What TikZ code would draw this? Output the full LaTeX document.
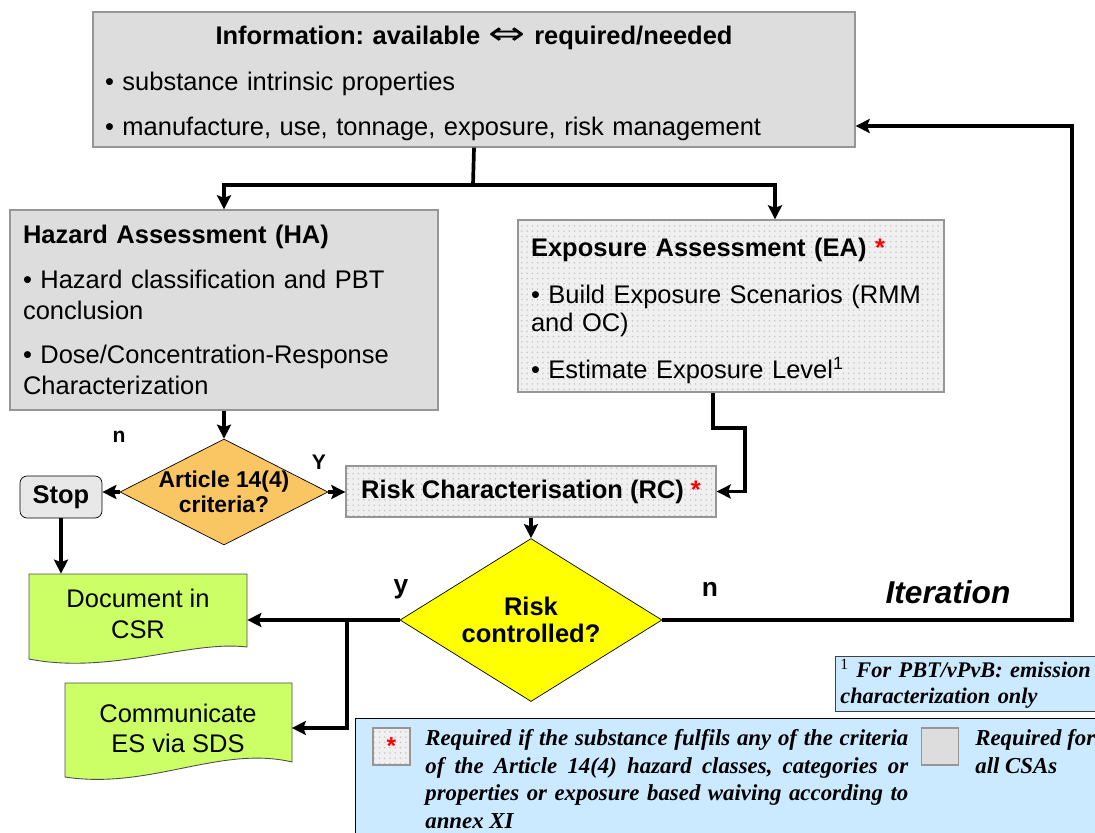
\documentclass[tikz,border=0pt]{standalone}
\usepackage{fontspec}
\setmainfont{Liberation Sans}
\newfontfamily\notefont{Liberation Serif}
\newfontfamily\symfont{DejaVu Sans}
\usetikzlibrary{shapes.geometric,arrows.meta,calc,patterns}
\definecolor{boxgray}{RGB}{221,221,221}
\definecolor{boxedge}{RGB}{150,150,150}
\definecolor{critorange}{RGB}{250,198,100}
\definecolor{riskyellow}{RGB}{255,255,0}
\definecolor{docgreen}{RGB}{204,255,102}
\definecolor{noteblue}{RGB}{204,234,255}
\frenchspacing

\begin{document}
\begin{tikzpicture}[x=0.02cm, y=-0.02cm,
  body/.style={font=\fontsize{14.5}{17.6}\selectfont},
  bold/.style={font=\bfseries\fontsize{14.5}{15.3}\selectfont},
  graybox/.style={draw=boxedge, fill=boxgray, line width=0.8pt, inner ysep=2pt},
  dotbox/.style={draw=boxedge, line width=0.8pt, preaction={fill=gray!12},
    pattern=dots, pattern color=gray!45, inner ysep=2pt},
  note/.style={font=\notefont\bfseries\itshape\fontsize{13}{15.8}\selectfont},
  conn/.style={line width=2.1pt},
  arr/.style={conn, -{Stealth[length=8pt,width=8pt,inset=1.5pt]}}]
  \useasboundingbox (0,0) rectangle (1095,832);

  % Information box
  \node[graybox, body, font=\fontsize{14.5}{25.8}\selectfont, text width=14.76cm,
    inner xsep=0.24cm, minimum height=2.7cm, align=left] (info) at (474,79.5)
    {\makebox[\hsize][c]{\rule{0pt}{15pt}\bfseries Information: available
       {\symfont\mdseries\fontsize{18}{18}\selectfont\scalebox{1.4}[1]{⇔}} required/needed}\\
     • substance intrinsic properties\\
     • manufacture, use, tonnage, exposure, risk management};

  % Assessments
  \node[graybox, body, text width=8.04cm, inner xsep=0.26cm, minimum height=4cm,
    align=left] (ha) at (224,310)
    {\textbf{Hazard Assessment (HA)}\\[7.9pt]
     • Hazard classification and PBT\\conclusion\\[7.9pt]
     • Dose/Concentration-Response\\Characterization};
  \node[dotbox, font=\fontsize{14.5}{16}\selectfont, text width=8.0cm, inner xsep=0.26cm,
    minimum height=3.44cm, align=left] (ea) at (731,306)
    {\rule{0pt}{16.3pt}\textbf{Exposure Assessment (EA)} {\bfseries\color{red}*}\\[10.6pt]
     • Build Exposure Scenarios (RMM\\and OC)\\[10.6pt]
     • Estimate Exposure Level\textsuperscript{1}};

  % Article 14(4) decision
  \node[diamond, draw, fill=critorange, minimum width=4.16cm, minimum height=2.12cm,
    inner sep=0pt] (art) at (224,492) {};
  \node[font=\bfseries\fontsize{13}{14.2}\selectfont, align=center] (artText) at (art)
    {Article 14(4)\\criteria?};
  \node[draw, fill=gray!18, rounded corners=4pt, minimum width=1.64cm, minimum height=0.84cm,
    bold] (stop) at (61,497) {Stop};
  \node[dotbox, bold, minimum width=7.4cm, minimum height=1.02cm] (rc) at (531,491.5)
    {Risk Characterisation (RC) {\color{red}*}};

  % Risk decision
  \node[diamond, draw, fill=riskyellow, minimum width=5.24cm, minimum height=3.26cm,
    inner sep=0pt] (risk) at (531,620) {};
  \node[bold, align=center] (riskText) at (risk) {Risk\\controlled?};

  % Outputs
  \filldraw[fill=docgreen, draw=black!70, line width=0.5pt] (29,574) -- (247,574) -- (247,647)
    .. controls (190,640) and (110,675) .. (29,659) -- cycle;
  \filldraw[fill=docgreen, draw=black!70, line width=0.5pt] (65,683) -- (292,683) -- (292,762)
    .. controls (220,745) and (150,790) .. (65,777) -- cycle;
  \node[font=\fontsize{14.5}{18}\selectfont, minimum width=4.36cm, minimum height=1.6cm,
    align=center] (doc) at (138,614) {Document in\\CSR};
  \node[font=\fontsize{14.5}{17}\selectfont, minimum width=4.54cm, minimum height=1.6cm,
    align=center] (comm) at (178,728) {Communicate\\ES via SDS};

  % Connectors
  \coordinate (split) at (473,185);
  \draw[conn] (info.south) -- (split);
  \draw[arr] (split) -| (ha.north);
  \draw[arr] (split) -| ($(ea.north)+(44,0)$);
  \draw[arr] (ha.south) -- (art.north);
  \draw[arr] (art.west) -- (art.west -| stop.east);
  \draw[arr] (art.east) -- (art.east -| rc.west);
  \draw[arr] ($(ea.south)+(-18,0)$) |- (745,428) |- (rc.east);
  \draw[arr] (rc.south) -- (risk.north);
  \coordinate (loop) at (1072,126);
  \draw[arr] (risk.east) -| (loop) -- (loop -| info.east);
  \draw[arr] (risk.west) -- (risk.west -| doc.east);
  \coordinate (branch) at (347,620);
  \draw[arr] (branch) |- (comm.east);
  \draw[arr] (stop.south) -- (stop.south |- doc.north);

  % Branch labels
  \node[font=\bfseries\fontsize{12}{14}\selectfont] (artNo) at (119,437) {n};
  \node[font=\bfseries\fontsize{12}{14}\selectfont] (artYes) at (319,462) {Y};
  \node[font=\bfseries\fontsize{15}{17}\selectfont] (riskYes) at (401,589) {y};
  \node[font=\bfseries\fontsize{15}{17}\selectfont] (riskNo) at (710,589) {n};
  \node[font=\bfseries\itshape\fontsize{18}{20}\selectfont] (iter) at (948,592) {Iteration};

  % Footnote
  \node[draw=black!75, fill=noteblue, anchor=north west, note,
    font=\notefont\bfseries\itshape\fontsize{12.7}{14.8}\selectfont, text width=5.2cm,
    inner xsep=0.1cm, inner ysep=1pt, minimum height=1.1cm, align=left] (foot) at (835,656)
    {\textsuperscript{\upshape\mdseries 1} For PBT/vPvB: emission\\characterization only};

  % Legend
  \node[draw, line width=0.8pt, fill=noteblue, anchor=north west, minimum width=15cm,
    minimum height=2.6cm] (legend) at (355,718) {};
  \node[dotbox, minimum size=0.74cm, inner sep=0pt, font=\bfseries\fontsize{14}{14}\selectfont]
    (starKey) at (391.5,746.5) {\color{red}*};
  \node[graybox, minimum size=0.74cm, inner sep=0pt] (grayKey) at (940,746.5) {};
  \node[note, anchor=north west, text width=9.66cm, align=justify, inner sep=0pt]
    (starNote) at (425,729)
    {Required if the substance fulfils any of the criteria\linebreak
     of the Article 14(4) hazard classes, categories or\linebreak
     properties or exposure based waiving according to\linebreak
     annex XI};
  \node[note, anchor=north west, align=left, inner sep=0pt] (grayNote) at (975,729)
    {Required for\\all CSAs};
\end{tikzpicture}
\end{document}
